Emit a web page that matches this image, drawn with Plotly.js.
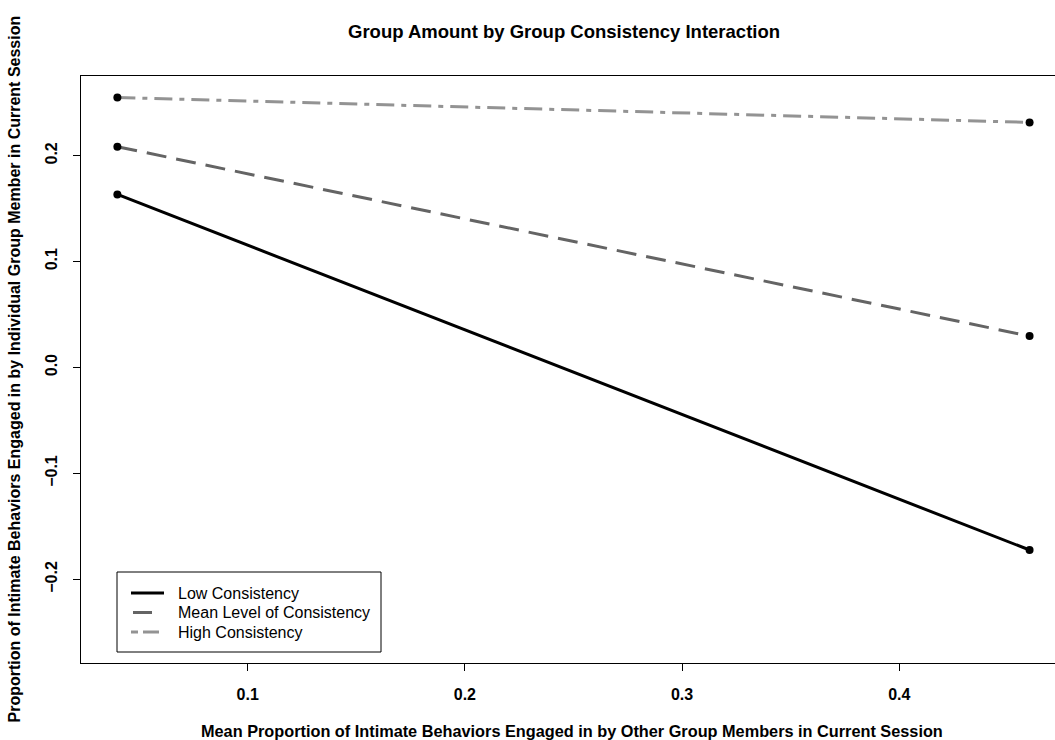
<!DOCTYPE html>
<html>
<head>
<meta charset="utf-8">
<script src="https://cdn.plot.ly/plotly-3.0.1.min.js"></script>
<style>
html,body{margin:0;padding:0;background:#fff;overflow:hidden;}
#chart{width:1055px;height:740px;}
</style>
</head>
<body>
<div id="chart"></div>
<script>
// Data
var xValues = [0.04, 0.46];
var seriesNames = ["Low Consistency", "Mean Level of Consistency", "High Consistency"];
var lowValues = [0.1635, -0.1723];
var meanValues = [0.2085, 0.0297];
var highValues = [0.2550, 0.2315];
var xTicks = [0.1, 0.2, 0.3, 0.4];
var xTickLabels = ["0.1", "0.2", "0.3", "0.4"];
var yTicks = [-0.2, -0.1, 0.0, 0.1, 0.2];
var yTickLabels = ["\u22120.2", "\u22120.1", "0.0", "0.1", "0.2"];

var FONT = "Liberation Sans, Arial, sans-serif";
var seriesColors = ["#000000", "#646464", "#939393"];
var seriesDash = ["solid", "20px,10px", "18px,7px,5px,7px"];

function lineTrace(i, ys) {
  return {
    x: xValues, y: ys, name: seriesNames[i], type: "scatter", mode: "lines",
    line: {color: seriesColors[i], width: 3, dash: seriesDash[i]},
    showlegend: false, hoverinfo: "skip"
  };
}
function dotTrace(ys) {
  return {
    x: xValues, y: ys, type: "scatter", mode: "markers",
    marker: {color: "#000", size: 8},
    showlegend: false, hoverinfo: "skip"
  };
}

var data = [
  lineTrace(0, lowValues),
  lineTrace(1, meanValues),
  lineTrace(2, highValues),
  dotTrace(lowValues), dotTrace(meanValues), dotTrace(highValues)
];

var L = 81, R = 1055, T = 76, B = 663;
var PW = R - L, PH = B - T;
function px(x) { return (x - L) / PW; }
function py(y) { return (B - y) / PH; }

// legend (drawn in paper coordinates)
var legendRowsY = [593, 612.5, 632];
var shapes = [
  {type: "rect", xref: "paper", yref: "paper",
   x0: px(117), x1: px(381), y0: py(652), y1: py(572),
   line: {color: "#000", width: 1}, fillcolor: "rgba(255,255,255,0)", layer: "above"},
  // low sample
  {type: "line", xref: "paper", yref: "paper", x0: px(131), x1: px(164), y0: py(593), y1: py(593),
   line: {color: seriesColors[0], width: 3}},
  // mean sample (one dash)
  {type: "line", xref: "paper", yref: "paper", x0: px(133), x1: px(152), y0: py(612.5), y1: py(612.5),
   line: {color: seriesColors[1], width: 3}},
  // high sample (two dashes)
  {type: "line", xref: "paper", yref: "paper", x0: px(131), x1: px(138), y0: py(632), y1: py(632),
   line: {color: seriesColors[2], width: 3}},
  {type: "line", xref: "paper", yref: "paper", x0: px(143), x1: px(159), y0: py(632), y1: py(632),
   line: {color: seriesColors[2], width: 3}}
];

var annotations = [
  {text: "Group Amount by Group Consistency Interaction", xref: "paper", yref: "paper",
   x: px(564), y: py(32), xanchor: "center", yanchor: "middle", showarrow: false,
   font: {family: FONT, size: 18.5, weight: "bold", color: "#000"}},
  {text: "Mean Proportion of Intimate Behaviors Engaged in by Other Group Members in Current Session",
   xref: "paper", yref: "paper", x: px(572), y: py(731), xanchor: "center", yanchor: "middle",
   showarrow: false, font: {family: FONT, size: 16.3, weight: "bold", color: "#000"}},
  {text: "Proportion of Intimate Behaviors Engaged in by Individual Group Member in Current Session",
   xref: "paper", yref: "paper", x: px(14), y: py(369.5), xanchor: "center", yanchor: "middle",
   textangle: -90, showarrow: false, font: {family: FONT, size: 16, weight: "bold", color: "#000"}}
];
for (var i = 0; i < seriesNames.length; i++) {
  annotations.push({
    text: seriesNames[i], xref: "paper", yref: "paper",
    x: px(176), y: py(legendRowsY[i]), xanchor: "left", yanchor: "middle",
    showarrow: false, font: {family: FONT, size: 16, color: "#000"}
  });
}

var layout = {
  width: 1055, height: 740,
  margin: {l: L, r: 1055 - R, t: T, b: 740 - B, pad: 0},
  paper_bgcolor: "#fff", plot_bgcolor: "#fff",
  font: {family: FONT, color: "#000", size: 16},
  showlegend: false,
  xaxis: {
    range: [0.02325, 0.4717], showgrid: false, zeroline: false,
    showline: true, mirror: true, linecolor: "#000", linewidth: 1,
    ticks: "outside", ticklen: 7, tickcolor: "#000", tickwidth: 1,
    tickvals: xTicks, ticktext: xTickLabels,
    tickfont: {family: FONT, size: 16, weight: "bold", color: "#000"},
    ticklabelstandoff: 10
  },
  yaxis: {
    range: [-0.279, 0.2753], showgrid: false, zeroline: false,
    showline: true, mirror: false, linecolor: "#000", linewidth: 1,
    ticks: "outside", ticklen: 7, tickcolor: "#000", tickwidth: 1,
    tickvals: yTicks, ticktext: yTickLabels, tickangle: -90,
    tickfont: {family: FONT, size: 16, weight: "bold", color: "#000"},
    ticklabelstandoff: 10
  },
  shapes: shapes,
  annotations: annotations
};

Plotly.newPlot("chart", data, layout, {displayModeBar: false, staticPlot: true});
</script>
</body>
</html>
